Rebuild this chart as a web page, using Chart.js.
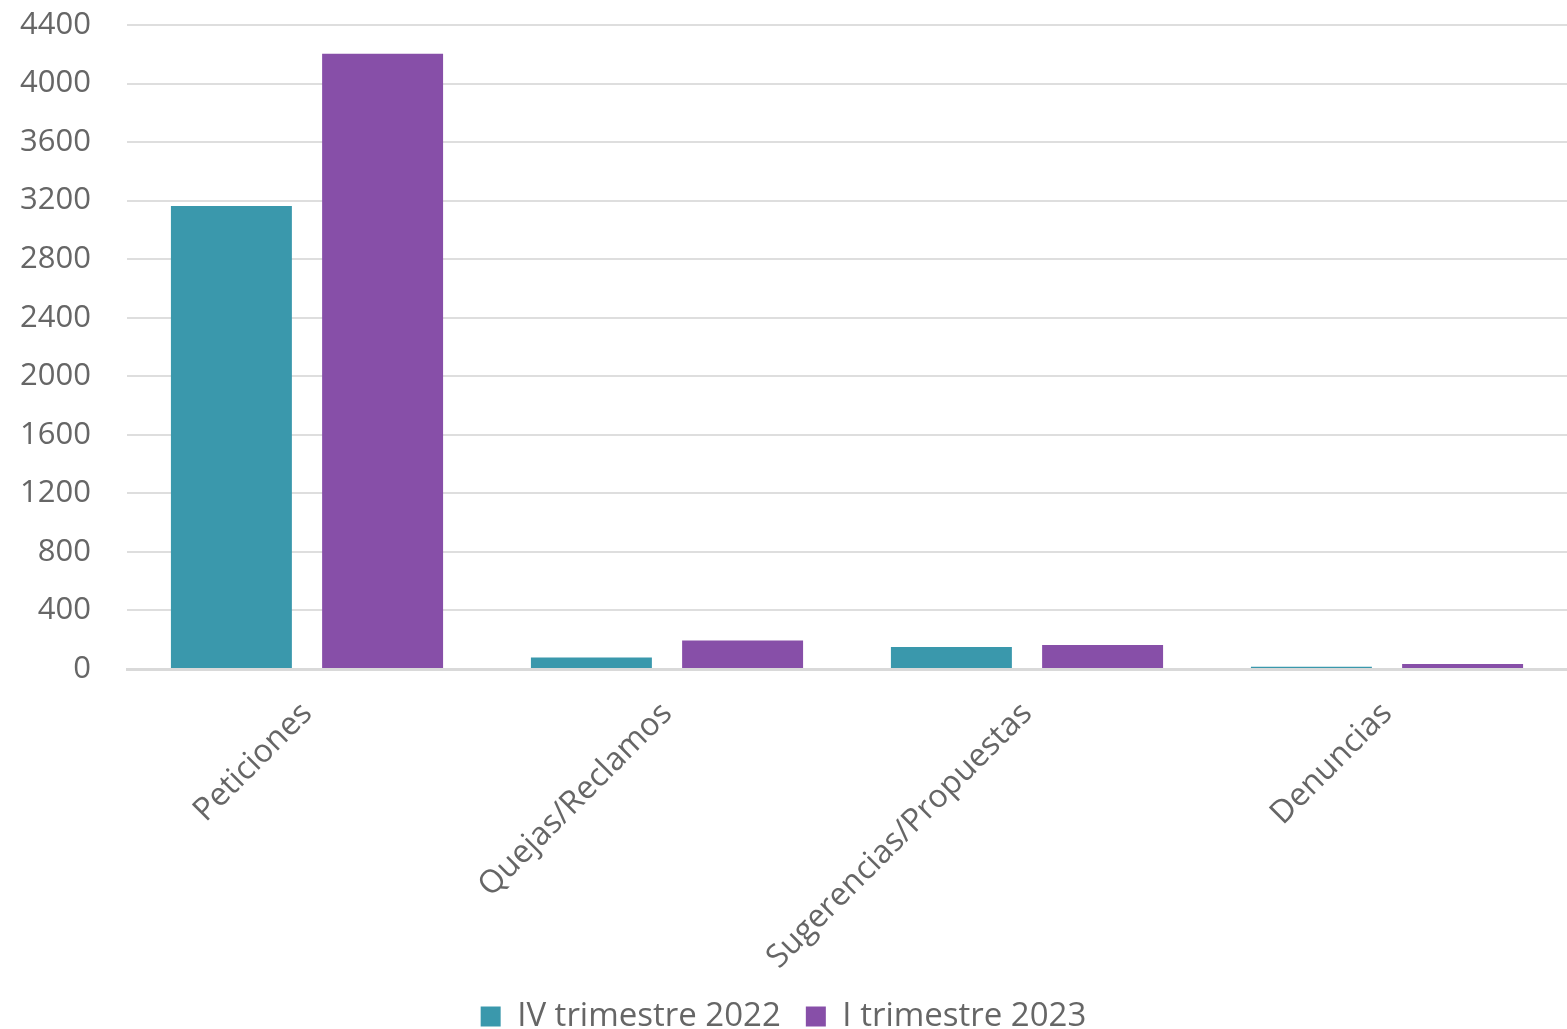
<!DOCTYPE html>
<html>
<head>
<meta charset="utf-8">
<script src="https://cdn.jsdelivr.net/npm/chart.js@4/dist/chart.umd.min.js"></script>
<style>
  html, body { margin: 0; padding: 0; background: #ffffff; }
  #wrap { width: 1567px; height: 1029px; }
</style>
</head>
<body>
<div id="wrap"><canvas id="chart"></canvas></div>
<script>
// categories and values
const categories = ['Peticiones', 'Quejas/Reclamos', 'Sugerencias/Propuestas', 'Denuncias'];
const seriesNames = ['IV trimestre 2022', 'I trimestre 2023'];
const q4_2022 = [3164, 79, 150, 16];
const q1_2023 = [4204, 194, 164, 34];
const yTicks = [0, 400, 800, 1200, 1600, 2000, 2400, 2800, 3200, 3600, 4000, 4400];

const textColor = '#666666';
const fontFamily = '"Open Sans", Lato, sans-serif';

const ctx = document.getElementById('chart').getContext('2d');
new Chart(ctx, {
  type: 'bar',
  data: {
    labels: categories,
    datasets: [
      {
        label: seriesNames[0],
        data: q4_2022,
        backgroundColor: '#3a98ac',
        categoryPercentage: 0.84,
        barPercentage: 0.8
      },
      {
        label: seriesNames[1],
        data: q1_2023,
        backgroundColor: '#874fa8',
        categoryPercentage: 0.84,
        barPercentage: 0.8
      }
    ]
  },
  options: {
    responsive: true,
    maintainAspectRatio: false,
    animation: false,
    layout: { padding: { top: 25, right: 0, left: 0, bottom: -14 } },
    plugins: {
      tooltip: { enabled: false },
      legend: {
        position: 'bottom',
        labels: {
          boxWidth: 20,
          boxHeight: 20,
          padding: 25,
          color: textColor,
          font: { family: fontFamily, size: 33 }
        }
      }
    },
    scales: {
      x: {
        grid: { display: false, drawTicks: false },
        border: { color: '#d9d9d9', width: 3 },
        // labels are clipped to the axis box, so keep it tall enough for them
        afterFit: function (axis) { axis.height = 306; },
        ticks: {
          color: textColor,
          font: { family: fontFamily, size: 32 },
          minRotation: 45,
          maxRotation: 45,
          padding: 26
        }
      },
      y: {
        min: 0,
        max: 4400,
        afterFit: function (axis) { axis.width = 127; },
        afterBuildTicks: function (axis) {
          axis.ticks = yTicks.map(v => ({ value: v }));
        },
        // tick marks kept invisible, their length gives the gap before the labels
        grid: { color: '#dedede', lineWidth: 2, drawTicks: true, tickLength: 34, tickColor: 'rgba(0,0,0,0)' },
        border: { display: false },
        ticks: {
          color: textColor,
          font: { family: fontFamily, size: 31 },
          padding: 2,
          callback: function (value) { return String(value); }
        }
      }
    }
  }
});
</script>
</body>
</html>
